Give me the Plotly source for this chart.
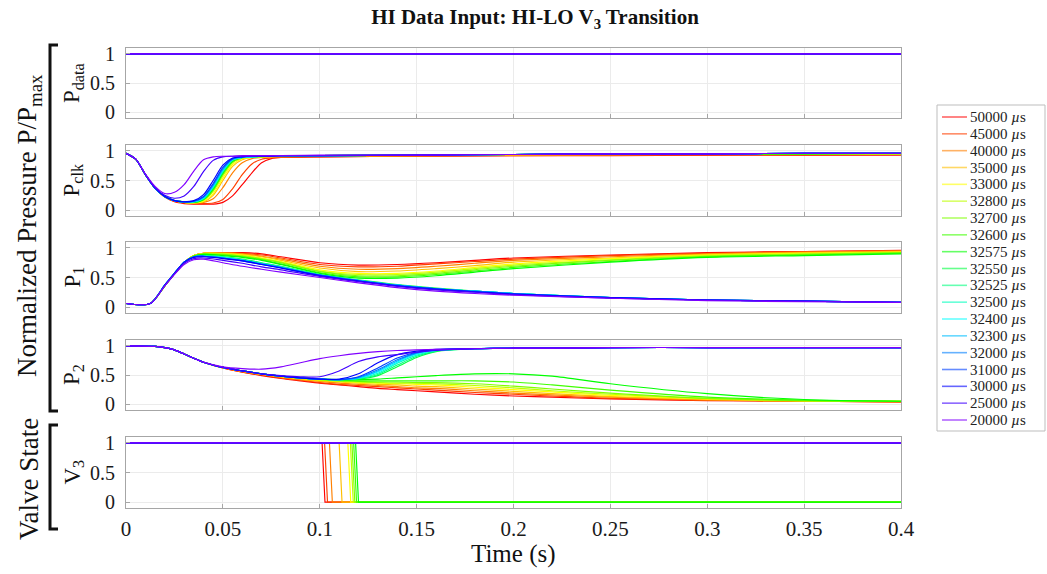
import plotly.graph_objects as go

# ---------------------------------------------------------------- data
LABELS = ["50000", "45000", "40000", "35000", "33000", "32800", "32700",
          "32600", "32575", "32550", "32525", "32500", "32400", "32300",
          "32000", "31000", "30000", "25000", "20000"]

COLORS = ["#ff0000", "#ff4000", "#ff8000", "#ffbf00", "#ffff00", "#bfff00",
          "#80ff00", "#40ff00", "#00ff00", "#00ff40", "#00ff80", "#00ffbf",
          "#00ffff", "#00bfff", "#0080ff", "#0040ff", "#0000ff", "#4000ff",
          "#8000ff"]

# data-line pressure stays at its maximum for every run
T_DATA = [0.0, 0.1, 0.2, 0.3, 0.4]
P_DATA_LEVEL = [1.0, 1.0, 1.0, 1.0, 1.0, 1.0, 1.0, 1.0, 1.0, 1.0,
                1.0, 1.0, 1.0, 1.0, 1.0, 1.0, 1.0, 1.0, 1.0]

# clock-line pressure
T_CLK = [0, .005, .01, .015, .02, .025, .03, .035, .04, .045, .05, .055,
         .06, .065, .07, .075, .08, .1, .15, .2, .25, .3, .35, .4]
P_CLK = [
    [.96, .86, .60, .37, .22, .14, .11, .10, .10, .10, .13, .24, .43, .63, .80, .87, .89, .90, .91, .92, .92, .93, .93, .93],
    [.96, .86, .60, .37, .22, .15, .12, .11, .11, .12, .18, .36, .60, .78, .86, .88, .89, .90, .91, .92, .93, .93, .93, .94],
    [.96, .86, .60, .37, .23, .16, .13, .12, .13, .19, .38, .63, .80, .87, .89, .90, .90, .91, .92, .93, .93, .94, .94, .94],
    [.96, .86, .60, .37, .23, .16, .13, .12, .14, .25, .50, .74, .85, .89, .90, .90, .91, .91, .92, .93, .94, .94, .94, .95],
    [.96, .86, .60, .37, .23, .16, .13, .12, .15, .28, .54, .77, .87, .89, .90, .91, .91, .92, .93, .94, .94, .95, .95, .95],
    [.96, .86, .60, .37, .23, .16, .13, .13, .17, .32, .58, .80, .88, .90, .90, .91, .91, .92, .93, .94, .94, .95, .95, .95],
    [.96, .86, .60, .37, .23, .16, .13, .13, .17, .33, .60, .81, .88, .90, .90, .91, .91, .92, .93, .94, .94, .95, .95, .95],
    [.96, .86, .60, .37, .23, .16, .14, .13, .18, .35, .62, .82, .89, .90, .91, .91, .91, .92, .93, .94, .95, .95, .95, .96],
    [.96, .86, .60, .37, .23, .16, .14, .13, .18, .36, .63, .83, .89, .90, .91, .91, .91, .92, .93, .94, .95, .95, .95, .96],
    [.96, .86, .60, .37, .23, .16, .14, .13, .19, .37, .64, .84, .89, .90, .91, .91, .92, .92, .93, .94, .95, .95, .96, .96],
    [.96, .86, .60, .37, .23, .16, .14, .14, .19, .38, .65, .84, .89, .90, .91, .91, .92, .92, .93, .94, .95, .95, .96, .96],
    [.96, .86, .60, .37, .23, .16, .14, .14, .20, .39, .66, .85, .89, .90, .91, .91, .92, .92, .93, .94, .95, .95, .96, .96],
    [.96, .86, .60, .37, .23, .16, .14, .14, .20, .40, .67, .85, .89, .90, .91, .91, .92, .92, .93, .94, .95, .95, .96, .96],
    [.96, .86, .60, .37, .23, .16, .14, .14, .21, .41, .68, .86, .89, .90, .91, .91, .92, .92, .93, .94, .95, .95, .96, .96],
    [.96, .86, .60, .37, .23, .16, .14, .15, .22, .43, .70, .86, .90, .91, .91, .91, .92, .92, .93, .94, .95, .95, .96, .96],
    [.96, .86, .60, .37, .23, .16, .14, .15, .23, .45, .72, .87, .90, .91, .91, .91, .92, .92, .93, .94, .95, .95, .96, .96],
    [.96, .86, .60, .37, .23, .16, .14, .16, .26, .50, .76, .88, .90, .91, .91, .91, .92, .92, .93, .94, .95, .95, .96, .96],
    [.96, .86, .60, .38, .25, .20, .24, .40, .65, .84, .90, .91, .91, .91, .92, .92, .92, .92, .93, .94, .95, .95, .96, .96],
    [.96, .86, .61, .40, .28, .30, .43, .66, .85, .90, .91, .91, .92, .92, .92, .92, .92, .93, .93, .94, .95, .95, .96, .96],
]

# chamber 1 pressure
T_P1 = [0, .0125, .02, .025, .03, .035, .04, .05, .06, .07, .08, .1, .12,
        .14, .16, .18, .2, .25, .3, .35, .4]
P_1 = [
    [.06, .06, .36, .56, .75, .87, .91, .92, .92, .90, .85, .75, .71, .72, .75, .79, .83, .88, .92, .94, .96],
    [.06, .06, .36, .56, .75, .87, .91, .92, .91, .88, .83, .72, .68, .69, .73, .77, .81, .87, .91, .94, .95],
    [.06, .06, .36, .56, .75, .87, .91, .92, .90, .86, .81, .69, .64, .65, .69, .74, .79, .85, .90, .93, .95],
    [.06, .06, .36, .56, .75, .87, .91, .91, .89, .85, .79, .66, .60, .61, .65, .70, .76, .83, .89, .92, .94],
    [.06, .06, .36, .56, .75, .87, .91, .90, .88, .83, .77, .63, .57, .57, .61, .67, .73, .82, .88, .91, .93],
    [.06, .06, .36, .56, .75, .87, .90, .90, .87, .82, .76, .61, .55, .55, .59, .65, .71, .80, .87, .90, .92],
    [.06, .06, .36, .56, .75, .86, .90, .89, .86, .81, .75, .60, .53, .53, .57, .63, .69, .79, .86, .89, .92],
    [.06, .06, .36, .56, .75, .86, .89, .88, .85, .80, .73, .58, .51, .51, .55, .61, .67, .77, .85, .88, .91],
    [.06, .06, .36, .56, .75, .86, .89, .87, .84, .79, .72, .57, .49, .49, .53, .59, .65, .76, .84, .87, .90],
    [.06, .06, .37, .57, .76, .85, .87, .85, .81, .75, .69, .55, .46, .38, .32, .27, .23, .16, .12, .10, .08],
    [.06, .06, .37, .57, .76, .85, .87, .85, .80, .74, .68, .55, .45, .37, .31, .27, .23, .16, .12, .10, .08],
    [.06, .06, .37, .57, .76, .85, .86, .84, .80, .74, .68, .54, .45, .37, .31, .27, .23, .16, .12, .10, .08],
    [.06, .06, .37, .57, .76, .85, .86, .84, .79, .73, .67, .54, .45, .37, .31, .27, .23, .16, .12, .10, .08],
    [.06, .06, .37, .57, .76, .85, .86, .83, .79, .73, .67, .54, .45, .37, .31, .27, .23, .16, .12, .10, .08],
    [.06, .06, .37, .57, .76, .85, .86, .83, .79, .73, .67, .54, .45, .37, .31, .27, .23, .16, .12, .10, .08],
    [.06, .06, .37, .57, .76, .85, .86, .83, .78, .72, .66, .54, .44, .36, .31, .26, .22, .16, .12, .10, .08],
    [.06, .06, .37, .57, .76, .84, .85, .82, .78, .72, .66, .53, .44, .36, .30, .26, .22, .16, .12, .10, .08],
    [.06, .06, .36, .56, .74, .82, .83, .79, .74, .68, .63, .52, .43, .35, .29, .25, .21, .15, .12, .10, .08],
    [.06, .06, .36, .55, .72, .80, .81, .75, .69, .64, .59, .50, .41, .33, .27, .23, .20, .15, .11, .09, .08],
]

# chamber 2 pressure
T_P2 = [0, .015, .02, .025, .03, .04, .05, .06, .07, .08, .09, .1, .11,
        .12, .13, .14, .15, .16, .18, .2, .22, .25, .3, .35, .4]
P_2 = [
    [1, .99, .97, .93, .86, .72, .62, .55, .49, .44, .40, .36, .33, .30, .27, .25, .23, .21, .17, .14, .12, .09, .06, .05, .04],
    [1, .99, .97, .93, .86, .72, .62, .55, .50, .45, .41, .37, .34, .32, .30, .28, .26, .24, .20, .17, .14, .10, .07, .05, .04],
    [1, .99, .97, .93, .86, .72, .63, .56, .51, .46, .42, .39, .36, .34, .32, .30, .28, .27, .23, .19, .16, .12, .07, .05, .04],
    [1, .99, .97, .93, .86, .72, .63, .56, .51, .47, .43, .40, .38, .36, .34, .33, .31, .30, .26, .22, .18, .13, .08, .05, .05],
    [1, .99, .97, .93, .86, .72, .63, .57, .52, .47, .44, .41, .39, .37, .36, .35, .34, .33, .29, .25, .21, .15, .09, .06, .05],
    [1, .99, .97, .93, .86, .72, .63, .57, .52, .48, .44, .42, .40, .38, .37, .36, .36, .35, .32, .28, .23, .17, .10, .06, .05],
    [1, .99, .97, .93, .86, .72, .63, .57, .52, .48, .45, .42, .40, .39, .38, .38, .37, .37, .35, .31, .26, .19, .10, .06, .05],
    [1, .99, .97, .93, .86, .72, .63, .57, .52, .48, .45, .43, .41, .40, .40, .40, .40, .40, .40, .38, .33, .24, .12, .07, .05],
    [1, .99, .97, .93, .86, .72, .63, .57, .52, .48, .45, .43, .42, .42, .43, .45, .47, .49, .52, .52, .48, .35, .18, .08, .05],
    [1, .99, .97, .93, .86, .72, .63, .57, .52, .48, .45, .43, .42, .43, .49, .64, .80, .90, .95, .96, .96, .97, .97, .97, .97],
    [1, .99, .97, .93, .86, .72, .63, .57, .52, .48, .45, .43, .42, .44, .51, .67, .82, .91, .95, .96, .96, .97, .97, .97, .97],
    [1, .99, .97, .93, .86, .72, .63, .57, .52, .48, .45, .43, .42, .44, .53, .70, .84, .92, .95, .96, .96, .97, .97, .97, .97],
    [1, .99, .97, .93, .86, .72, .63, .57, .52, .48, .45, .43, .42, .45, .55, .72, .86, .92, .95, .96, .96, .97, .97, .97, .97],
    [1, .99, .97, .93, .86, .72, .63, .57, .52, .48, .45, .43, .42, .45, .57, .74, .87, .93, .95, .96, .96, .97, .97, .97, .97],
    [1, .99, .97, .93, .86, .72, .63, .57, .52, .48, .45, .43, .42, .46, .59, .76, .88, .93, .95, .96, .96, .97, .97, .97, .97],
    [1, .99, .97, .93, .86, .72, .63, .57, .52, .48, .45, .43, .42, .47, .62, .79, .89, .93, .95, .96, .96, .97, .97, .97, .97],
    [1, .99, .97, .93, .86, .72, .63, .57, .52, .48, .45, .43, .43, .52, .71, .85, .91, .94, .95, .96, .96, .97, .97, .97, .97],
    [1, .99, .97, .93, .86, .72, .63, .57, .52, .49, .47, .47, .57, .73, .81, .85, .89, .92, .95, .96, .96, .97, .97, .97, .97],
    [1, .99, .97, .93, .86, .72, .64, .61, .60, .64, .71, .78, .83, .87, .90, .92, .93, .94, .95, .96, .96, .97, .97, .97, .97],
]

# valve V3 closing time (s) per run; None = valve stays open
V3_SWITCH = [0.1012, 0.1025, 0.105, 0.110, 0.1145, 0.1158, 0.1166, 0.1175,
             0.1185, None, None, None, None, None, None, None, None, None, None]
V3_FALL = 0.0015     # one logging step for the valve signal
T_END = 0.4

# ---------------------------------------------------------------- layout geometry
W, H = 1047, 574
ML, MR, MT, MB = 126, 146, 48, 66
PW, PH = W - ML - MR, H - MT - MB

def px_x(px):
    return (px - ML) / PW

def px_y(py):
    return (H - MB - py) / PH

# panel frames (top, bottom) in pixels, top to bottom
PANELS = [(48, 118), (145, 216), (242, 313), (340, 410), (437, 508)]
DOMAINS = [[px_y(b), px_y(t)] for t, b in PANELS]

SERIF = "Liberation Serif, Times New Roman, serif"
FRAME = "#a6a6a6"
GRID = "#ebebeb"
LW = 1.15
OPAC = 1.0

fig = go.Figure()

def add_panel(k, tvals, rows, shape="spline"):
    for i, lab in enumerate(LABELS):
        fig.add_trace(go.Scatter(
            x=tvals, y=rows[i], mode="lines",
            xaxis="x" if k == 1 else f"x{k}", yaxis="y" if k == 1 else f"y{k}",
            line=dict(color=COLORS[i], width=LW, shape=shape, smoothing=0.8),
            opacity=OPAC, name=f"{lab} µs", showlegend=False, hoverinfo="skip"))

add_panel(1, T_DATA, [[lvl] * len(T_DATA) for lvl in P_DATA_LEVEL], shape="linear")
add_panel(2, T_CLK, P_CLK)
add_panel(3, T_P1, P_1)
add_panel(4, T_P2, P_2)

v3_x, v3_y = [], []
for ts in V3_SWITCH:
    if ts is None:
        v3_x.append([0.0, T_END])
        v3_y.append([1, 1])
    else:
        v3_x.append([0.0, ts, ts + V3_FALL, T_END])
        v3_y.append([1, 1, 0, 0])
for i, lab in enumerate(LABELS):
    fig.add_trace(go.Scatter(
        x=v3_x[i], y=v3_y[i], mode="lines", xaxis="x5", yaxis="y5",
        line=dict(color=COLORS[i], width=LW), opacity=OPAC,
        name=f"{lab} µs", showlegend=False, hoverinfo="skip"))

XTICKS = [0, 0.05, 0.1, 0.15, 0.2, 0.25, 0.3, 0.35, 0.4]
XTEXT = ["0", "0.05", "0.1", "0.15", "0.2", "0.25", "0.3", "0.35", "0.4"]

axes = {}
for k in range(1, 6):
    xn = "xaxis" if k == 1 else f"xaxis{k}"
    yn = "yaxis" if k == 1 else f"yaxis{k}"
    axes[xn] = dict(
        domain=[0, 1], range=[0, T_END], anchor="y" if k == 1 else f"y{k}",
        tickvals=XTICKS, ticktext=XTEXT, showticklabels=(k == 5),
        showgrid=True, gridcolor=GRID, gridwidth=1, zeroline=False,
        showline=True, mirror=True, linecolor=FRAME, linewidth=1,
        ticks="inside", ticklen=4, tickcolor=FRAME,
        tickfont=dict(family=SERIF, size=21, color="#1a1a1a"),
        ticklabelstandoff=2,
        matches=None if k == 1 else "x")
    axes[yn] = dict(
        domain=DOMAINS[k - 1], range=[-0.1, 1.1], anchor="x" if k == 1 else f"x{k}",
        tickvals=[0, 0.5, 1], ticktext=["0", "0.5", "1"],
        showgrid=True, gridcolor=GRID, gridwidth=1, zeroline=False,
        showline=True, mirror=True, linecolor=FRAME, linewidth=1,
        ticks="inside", ticklen=4, tickcolor=FRAME,
        tickfont=dict(family=SERIF, size=20, color="#1a1a1a"),
        ticklabelstandoff=6)

annotations = []
shapes = []

# panel names
PANEL_NAMES = ["P<sub>data</sub>", "P<sub>clk</sub>", "P<sub>1</sub>",
               "P<sub>2</sub>", "V<sub>3</sub>"]
for (t, b), name in zip(PANELS, PANEL_NAMES):
    annotations.append(dict(
        x=px_x(73), y=px_y((t + b) / 2), xref="paper", yref="paper",
        text=name, textangle=-90, showarrow=False,
        font=dict(family=SERIF, size=23, color="#111111"),
        xanchor="center", yanchor="middle"))

# group labels with brackets
annotations.append(dict(
    x=px_x(29), y=px_y(226), xref="paper", yref="paper",
    text="Normalized Pressure P/P<sub>max</sub>", textangle=-90, showarrow=False,
    font=dict(family=SERIF, size=27, color="#111111"),
    xanchor="center", yanchor="middle"))
annotations.append(dict(
    x=px_x(29), y=px_y(479), xref="paper", yref="paper",
    text="Valve State", textangle=-90, showarrow=False,
    font=dict(family=SERIF, size=27, color="#111111"),
    xanchor="center", yanchor="middle"))

for top, bot in [(45, 411), (425, 529)]:
    xs, xe = px_x(50), px_x(58)
    shapes.append(dict(type="path", xref="paper", yref="paper",
                       path=f"M {xe},{px_y(top)} L {xs},{px_y(top)} L {xs},{px_y(bot)} L {xe},{px_y(bot)}",
                       line=dict(color="#111111", width=3)))

# legend
LEG_BOX = (937, 105, 1045, 431)
shapes.append(dict(type="rect", xref="paper", yref="paper",
                   x0=px_x(LEG_BOX[0]), x1=px_x(LEG_BOX[2]),
                   y0=px_y(LEG_BOX[3]), y1=px_y(LEG_BOX[1]),
                   line=dict(color="#bdbdbd", width=1), fillcolor="white"))
first_y, last_y = 117, 420
step = (last_y - first_y) / (len(LABELS) - 1)
for i, lab in enumerate(LABELS):
    yy = px_y(first_y + i * step)
    shapes.append(dict(type="line", xref="paper", yref="paper",
                       x0=px_x(942), x1=px_x(967), y0=yy, y1=yy,
                       line=dict(color=COLORS[i], width=1.6), opacity=0.6))
    annotations.append(dict(
        x=px_x(968), y=yy, xref="paper", yref="paper",
        text=f"{lab} <i>µ</i>s", showarrow=False,
        font=dict(family=SERIF, size=15, color="#222222"),
        xanchor="left", yanchor="middle"))

# x axis title
annotations.append(dict(
    x=0.5, y=px_y(554), xref="paper", yref="paper", text="Time (s)",
    showarrow=False, font=dict(family=SERIF, size=25, color="#111111"),
    xanchor="center", yanchor="middle"))

fig.update_layout(
    width=W, height=H,
    margin=dict(l=ML, r=MR, t=MT, b=MB, pad=0),
    paper_bgcolor="white", plot_bgcolor="white",
    showlegend=False,
    title=dict(text="<b>HI Data Input: HI-LO V<sub>3</sub> Transition</b>",
               x=535 / W, xanchor="center",
               y=1 - 17 / H, yanchor="middle",
               font=dict(family=SERIF, size=21, color="#111111")),
    annotations=annotations, shapes=shapes,
    **axes)

fig.write_html("out.html")
